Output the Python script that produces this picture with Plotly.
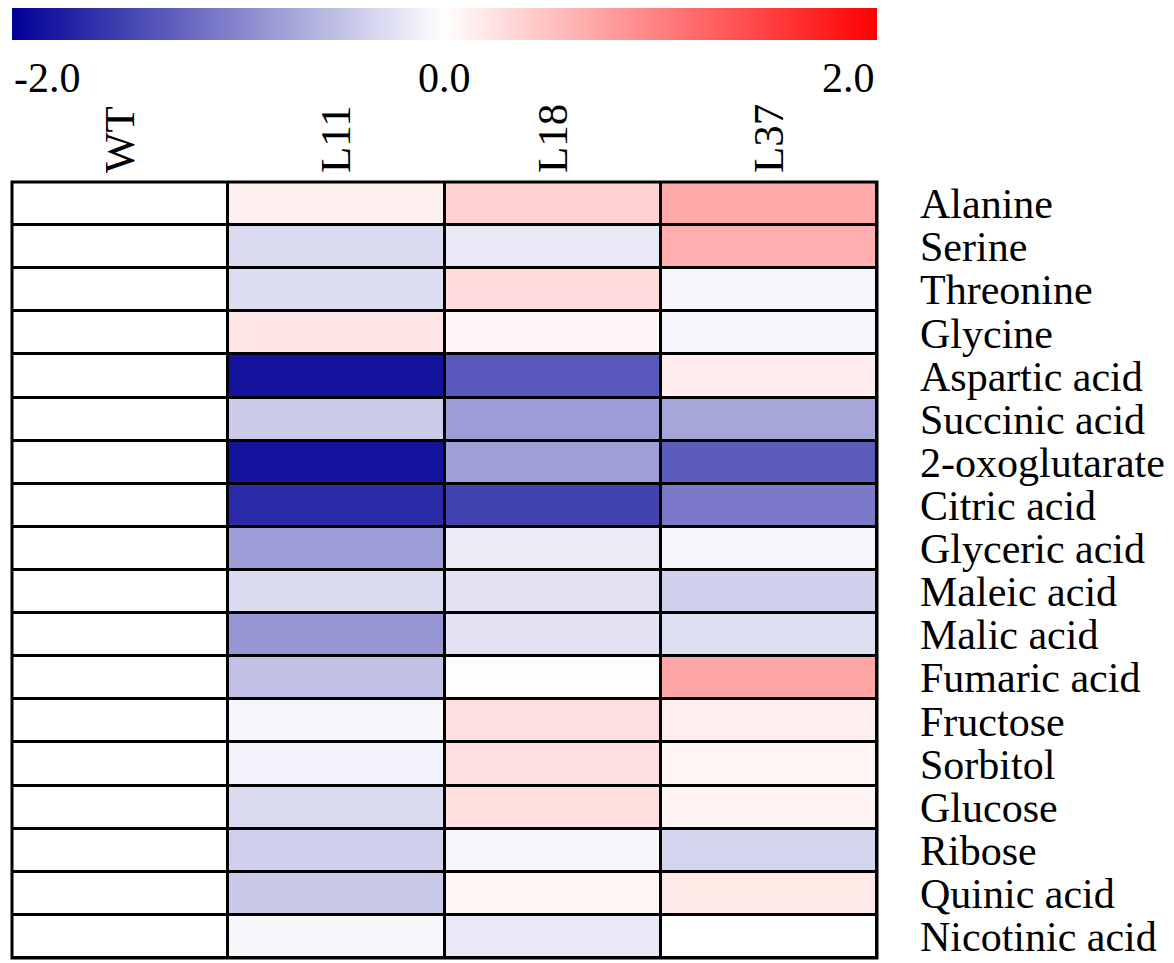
import plotly.graph_objects as go

samples = ["WT", "L11", "L18", "L37"]
metabolites = ["Alanine", "Serine", "Threonine", "Glycine", "Aspartic acid",
               "Succinic acid", "2-oxoglutarate", "Citric acid", "Glyceric acid",
               "Maleic acid", "Malic acid", "Fumaric acid", "Fructose", "Sorbitol",
               "Glucose", "Ribose", "Quinic acid", "Nicotinic acid"]

wt = [0.0] * 18
l11 = [0.12, -0.29, -0.27, 0.20, -1.85, -0.40, -1.85, -1.67, -0.78, -0.29,
       -0.82, -0.49, -0.07, -0.10, -0.29, -0.37, -0.42, -0.07]
l18 = [0.35, -0.18, 0.27, 0.06, -1.30, -0.78, -0.75, -1.48, -0.16, -0.23,
       -0.23, 0.02, 0.26, 0.24, 0.24, -0.07, 0.08, -0.18]
l37 = [0.67, 0.63, -0.08, -0.08, 0.14, -0.70, -1.28, -1.04, -0.07, -0.37,
       -0.26, 0.70, 0.13, 0.08, 0.09, -0.34, 0.18, 0.0]

cbar_ticks = [-2.0, 0.0, 2.0]
cbar_ticklabels = ["-2.0", "0.0", "2.0"]

z = [list(r) for r in zip(wt, l11, l18, l37)]

FONT = "Liberation Serif"

fig = go.Figure(go.Heatmap(
    z=z, x=samples, y=metabolites,
    zmin=-2, zmax=2,
    colorscale=[[0, "rgb(0,0,150)"], [0.5, "rgb(255,255,255)"], [1, "rgb(255,0,0)"]],
    xgap=3, ygap=3,
    colorbar=dict(orientation="h", x=0.5, xanchor="center", len=1, lenmode="fraction",
                  y=1.2237, yanchor="top", thickness=32, ypad=0, xpad=0,
                  outlinewidth=0, showticklabels=False, ticks=""),
    showscale=True,
))

anchors = ["left", "center", "right"]
for v, lab, anc in zip(cbar_ticks, cbar_ticklabels, anchors):
    fig.add_annotation(x=(v + 2) / 4, y=1.1337, xref="paper", yref="paper",
                       text=lab, showarrow=False, xanchor=anc, yanchor="middle",
                       font=dict(family=FONT, size=42, color="black"))

fig.add_shape(type="rect", xref="paper", yref="paper", x0=0, x1=1, y0=0, y1=1,
              line=dict(color="black", width=3))

fig.update_layout(
    width=1174, height=963,
    margin=dict(l=12, r=297, t=182, b=3),
    plot_bgcolor="black", paper_bgcolor="white",
    font=dict(family=FONT, size=42, color="black"),
    xaxis=dict(side="top", tickangle=-90, showgrid=False, zeroline=False,
               tickmode="array", tickvals=samples, ticktext=samples,
               ticks="", ticklabelstandoff=8, tickfont=dict(size=43)),
    yaxis=dict(side="right", autorange="reversed", showgrid=False, zeroline=False,
               tickmode="array", tickvals=metabolites, ticktext=metabolites,
               ticks="", ticklabelstandoff=42, tickfont=dict(size=42)),
)

fig.write_html("out.html")
